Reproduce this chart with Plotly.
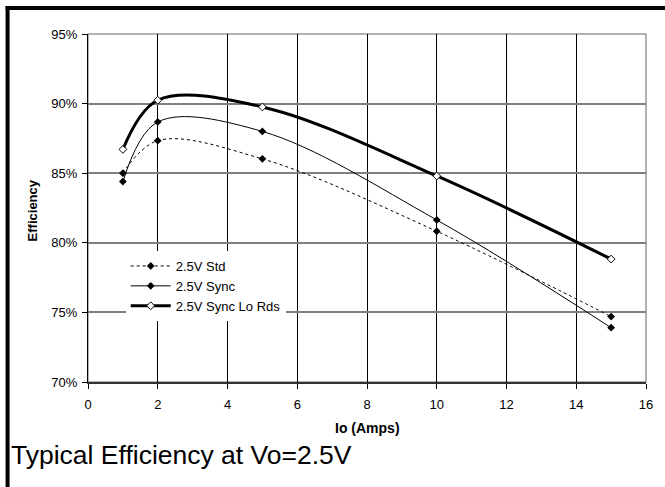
import plotly.graph_objects as go

io_amps = [1, 2, 5, 10, 15]
eff_std = [0.850, 0.8734, 0.8603, 0.8083, 0.7470]
eff_sync = [0.8440, 0.8868, 0.8800, 0.8164, 0.7390]
eff_lo_rds = [0.8671, 0.9024, 0.8976, 0.8480, 0.7883]
series_names = ["2.5V Std", "2.5V Sync", "2.5V Sync Lo Rds"]
x_ticks = [0, 2, 4, 6, 8, 10, 12, 14, 16]
y_ticks = [0.70, 0.75, 0.80, 0.85, 0.90, 0.95]
x_title = "Io (Amps)"
y_title = "Efficiency"
caption = "Typical Efficiency at Vo=2.5V"

W, H = 665, 487
L, R, T, B = 88, 15, 34, 105
pw, ph = W - L - R, H - T - B

def px_x(p):
    return (p - L) / pw

def px_y(p):
    return (H - B - p) / ph

fig = go.Figure()
fig.add_trace(go.Scatter(
    x=io_amps, y=eff_std, name=series_names[0], mode="lines+markers",
    line=dict(color="black", width=1, dash="dot", shape="spline", smoothing=1.0),
    marker=dict(symbol="diamond", size=6, color="black")))
fig.add_trace(go.Scatter(
    x=io_amps, y=eff_sync, name=series_names[1], mode="lines+markers",
    line=dict(color="black", width=1, shape="spline", smoothing=1.0),
    marker=dict(symbol="diamond", size=6, color="black")))
fig.add_trace(go.Scatter(
    x=io_amps, y=eff_lo_rds, name=series_names[2], mode="lines+markers",
    line=dict(color="black", width=3, shape="spline", smoothing=1.0),
    marker=dict(symbol="diamond", size=6, color="white", line=dict(color="black", width=1))))

FAM = "Liberation Sans, Arial, sans-serif"
font = dict(family=FAM, color="black", size=13)
tickfont = dict(family=FAM, color="black", size=13)

fig.update_layout(
    width=W, height=H,
    margin=dict(l=L, r=R, t=T, b=B),
    paper_bgcolor="white", plot_bgcolor="white",
    font=font,
    showlegend=True,
    legend=dict(x=px_x(126), y=px_y(251), xanchor="left", yanchor="top",
                bgcolor="white", borderwidth=0, font=dict(size=13, family=FAM),
                tracegroupgap=0, itemwidth=40),
    xaxis=dict(range=[0, 16], tickvals=x_ticks, ticks="outside", ticklen=5,
               tickcolor="black", showgrid=True, gridcolor="black", gridwidth=1,
               showline=True, linecolor="#333333", linewidth=2, zeroline=False,
               ticklabelstandoff=4, tickfont=tickfont),
    yaxis=dict(range=[0.70, 0.95], tickvals=y_ticks, tickformat=".0%", ticks="outside",
               ticklen=5, tickcolor="black", showgrid=True, gridcolor="#808080", gridwidth=1.5,
               showline=True, linecolor="black", linewidth=1, zeroline=False,
               ticklabelstandoff=2, tickfont=tickfont),
    shapes=[
        dict(type="rect", xref="paper", yref="paper", x0=0, x1=1, y0=0, y1=1,
             line=dict(color="#999999", width=1.5), layer="below"),
        dict(type="line", xref="paper", yref="paper", x0=px_x(7), x1=px_x(7),
             y0=px_y(6), y1=px_y(H + 5), line=dict(color="black", width=4)),
        dict(type="line", xref="paper", yref="paper", x0=px_x(5), x1=px_x(W + 5),
             y0=px_y(8), y1=px_y(8), line=dict(color="black", width=4)),
    ],
    annotations=[
        dict(text=f"<b>{x_title}</b>", xref="paper", yref="paper", x=0.5, y=px_y(428),
             xanchor="center", yanchor="middle", showarrow=False,
             font=dict(size=14, family=FAM, color="black")),
        dict(text=f"<b>{y_title}</b>", xref="paper", yref="paper", x=px_x(32), y=px_y(210),
             xanchor="center", yanchor="middle", showarrow=False, textangle=-90,
             font=dict(size=13, family=FAM, color="black")),
        dict(text=caption, xref="paper", yref="paper", x=px_x(8), y=px_y(455),
             xanchor="left", yanchor="middle", showarrow=False,
             font=dict(size=26.5, family=FAM, color="black")),
    ],
)

fig.write_html("out.html", config={"displayModeBar": False},
               post_script="document.body.style.margin='0';")
